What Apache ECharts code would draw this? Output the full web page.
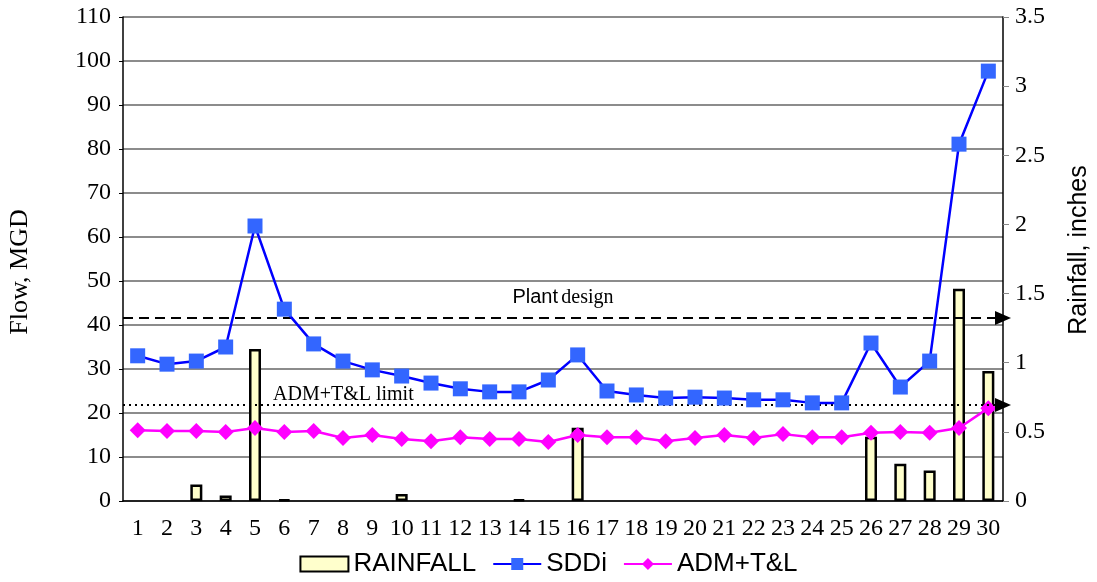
<!DOCTYPE html>
<html>
<head>
<meta charset="utf-8">
<script src="https://cdn.jsdelivr.net/npm/echarts@6/dist/echarts.min.js"></script>
<style>
  html, body { margin: 0; padding: 0; background: #fff; }
  #chart { width: 1097px; height: 582px; }
</style>
</head>
<body>
<div id="chart"></div>
<script>
// Day of month
const days = ['1','2','3','4','5','6','7','8','9','10','11','12','13','14','15',
              '16','17','18','19','20','21','22','23','24','25','26','27','28','29','30'];

// Daily rainfall, inches (right axis); 0 = no rain that day
const rainfall = [0, 0, 0.12, 0.04, 1.10, 0.01, 0, 0, 0, 0.05, 0, 0, 0, 0.01, 0,
                  0.53, 0, 0, 0, 0, 0, 0, 0, 0, 0, 0.465, 0.27, 0.22, 1.535, 0.94];

// SDDi flow, MGD
const sddi = [33.0, 31.1, 31.8, 35.0, 62.5, 43.6, 35.7, 31.8, 29.8, 28.4, 26.8, 25.5, 24.8, 24.8, 27.5,
              33.2, 25.0, 24.1, 23.4, 23.6, 23.4, 23.0, 23.0, 22.3, 22.3, 35.9, 25.9, 31.8, 81.1, 97.7];

// ADM + T&L flow, MGD
const admTL = [16.1, 15.9, 15.9, 15.7, 16.6, 15.7, 15.9, 14.3, 15.0, 14.1, 13.6, 14.5, 14.1, 14.1, 13.4,
               15.0, 14.5, 14.5, 13.6, 14.3, 15.0, 14.3, 15.2, 14.5, 14.5, 15.5, 15.7, 15.5, 16.6, 21.1];

// Reference levels, MGD
const plantDesign = 41.6;
const admLimit = 21.8;

const serif = 'Liberation Serif, Times New Roman, serif';
const sans = 'Liberation Sans, Arial, sans-serif';

// dry days get no bar at all
const rainBars = rainfall.map(v => (v > 0 ? v : null));

const chart = echarts.init(document.getElementById('chart'), null, { renderer: 'canvas' });

chart.setOption({
  animation: false,
  backgroundColor: '#ffffff',
  grid: { left: 123, right: 94, top: 17, bottom: 81, containLabel: false },
  // axis titles
  graphic: [
    {
      type: 'text',
      x: 20, y: 272,
      rotation: Math.PI / 2,
      style: {
        text: 'Flow, MGD',
        font: '26px ' + serif,
        fill: '#000',
        textAlign: 'center',
        textVerticalAlign: 'middle'
      }
    },
    {
      type: 'text',
      x: 1079, y: 250,
      rotation: Math.PI / 2,
      style: {
        text: 'Rainfall, inches',
        font: '25px ' + sans,
        fill: '#000',
        textAlign: 'center',
        textVerticalAlign: 'middle'
      }
    }
  ],
  legend: {
    bottom: 0,
    left: 'center',
    itemGap: 16,
    itemWidth: 48,
    itemHeight: 15,
    textStyle: { fontFamily: sans, fontSize: 26, color: '#000' },
    data: [
      { name: 'RAINFALL', icon: 'rect' },
      { name: 'SDDi' },
      { name: 'ADM+T&L' }
    ]
  },
  xAxis: {
    type: 'category',
    data: days,
    boundaryGap: true,
    axisLine: { lineStyle: { color: '#000', width: 1.5 } },
    axisTick: { show: false },
    axisLabel: { interval: 0, fontFamily: serif, fontSize: 24, color: '#000', margin: 16 }
  },
  yAxis: [
    {
      type: 'value',
      min: 0, max: 110, interval: 10,
      axisLine: { show: true, lineStyle: { color: '#000', width: 1.5 } },
      axisTick: { show: true, length: 4, lineStyle: { color: '#000' } },
      axisLabel: { fontFamily: serif, fontSize: 24, color: '#000', margin: 12 },
      splitLine: { show: true, lineStyle: { color: '#8c8c8c', width: 2 } }
    },
    {
      type: 'value',
      min: 0, max: 3.5, interval: 0.5,
      axisLine: { show: true, lineStyle: { color: '#000', width: 1.5 } },
      axisTick: { show: true, length: 6, lineStyle: { color: '#888' } },
      axisLabel: { fontFamily: serif, fontSize: 24, color: '#000', margin: 12 },
      splitLine: { show: false }
    }
  ],
  series: [
    {
      name: 'RAINFALL',
      type: 'bar',
      yAxisIndex: 1,
      data: rainBars,
      barWidth: 12,
      itemStyle: { color: '#ffffcc', borderColor: '#000', borderWidth: 2.5 },
      z: 1
    },
    {
      name: 'SDDi',
      type: 'line',
      yAxisIndex: 0,
      data: sddi,
      symbol: 'rect',
      symbolSize: 15,
      lineStyle: { color: '#0000ff', width: 2.5 },
      itemStyle: { color: '#3366ff' },
      z: 5,
      markLine: {
        silent: true,
        symbol: ['none', 'triangle'],
        symbolSize: [14, 16],
        symbolRotate: -90,
        data: [
          {
            yAxis: plantDesign,
            lineStyle: { color: '#000', type: [10, 6], width: 2 },
            label: {
              show: true,
              position: 'insideMiddleTop',
              distance: [0, 10],
              formatter: '{a|Plant} {b|design}',
              rich: {
                a: { fontFamily: sans, fontSize: 20, color: '#000' },
                b: { fontFamily: serif, fontSize: 20, color: '#000' }
              }
            }
          },
          {
            yAxis: admLimit,
            lineStyle: { color: '#000', type: [2, 4], width: 2 },
            label: {
              show: true,
              position: 'insideStartTop',
              distance: [150, 0],
              formatter: 'ADM+T&L limit',
              fontFamily: serif,
              fontSize: 20,
              color: '#000'
            }
          }
        ]
      }
    },
    {
      name: 'ADM+T&L',
      type: 'line',
      yAxisIndex: 0,
      data: admTL,
      symbol: 'diamond',
      symbolSize: 16,
      lineStyle: { color: '#ff00ff', width: 2.5 },
      itemStyle: { color: '#ff00ff' },
      z: 4
    }
  ]
});
</script>
</body>
</html>
